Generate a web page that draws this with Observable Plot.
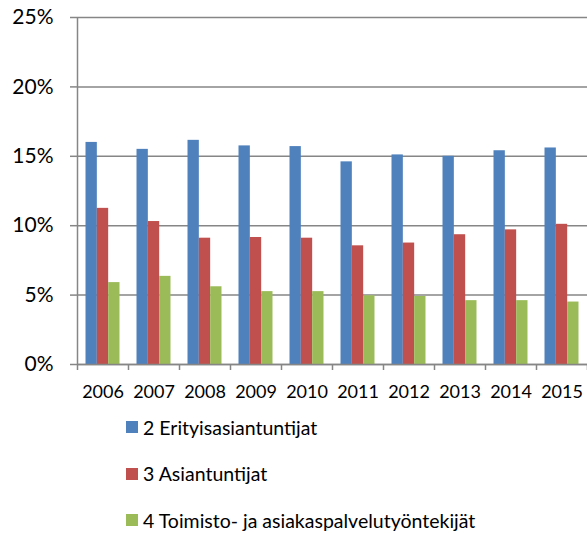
<!DOCTYPE html>
<html>
<head>
<meta charset="utf-8">
<script src="https://cdn.jsdelivr.net/npm/d3@7"></script>
<script src="https://cdn.jsdelivr.net/npm/@observablehq/plot@0.6"></script>
<style>
  html, body { margin: 0; padding: 0; background: #fff; }
  #wrap { position: relative; width: 587px; height: 533px; font-family: Lato, "Open Sans", sans-serif; color: #000; }
  #legend { position: absolute; left: 126px; top: 415px; }
  .item { display: flex; align-items: center; height: 24px; margin-bottom: 22.5px; font-size: 19.5px; white-space: nowrap; }
  .sw { width: 12px; height: 12px; margin-right: 5px; flex: none; }
</style>
</head>
<body>
<div id="wrap"></div>
<script>
const years = [2006, 2007, 2008, 2009, 2010, 2011, 2012, 2013, 2014, 2015];
const series = ["2 Erityisasiantuntijat", "3 Asiantuntijat", "4 Toimisto- ja asiakaspalvelutyöntekijät"];
const erityisasiantuntijat = [16.0, 15.5, 16.15, 15.75, 15.7, 14.6, 15.1, 15.0, 15.4, 15.6];
const asiantuntijat = [11.25, 10.3, 9.1, 9.15, 9.1, 8.55, 8.75, 9.35, 9.7, 10.1];
const toimisto = [5.9, 6.35, 5.6, 5.25, 5.25, 4.95, 4.9, 4.6, 4.6, 4.5];
const yTicks = [0, 5, 10, 15, 20, 25];
const colors = ["#4f81bd", "#c0504d", "#9bbb59"];

const valuesBySeries = [erityisasiantuntijat, asiantuntijat, toimisto];
const data = [];
years.forEach((yr, i) => {
  series.forEach((s, k) => data.push({i, year: yr, series: s, value: valuesBySeries[k][i]}));
});

// group layout inside each year slot
const inner = d3.scaleBand().domain(series).range([0, 1]).paddingInner(0).paddingOuter(0.75);

const chart = Plot.plot({
  width: 587,
  height: 405,
  marginLeft: 77,
  marginRight: 0,
  marginTop: 17,
  marginBottom: 41,
  style: {fontFamily: "Lato, 'Open Sans', sans-serif", color: "#000", background: "#fff"},
  x: {type: "linear", domain: [0, years.length], axis: null},
  y: {domain: [0, 25], axis: null},
  color: {domain: series, range: colors},
  marks: [
    Plot.gridY(yTicks, {stroke: "#868686", strokeWidth: 1.5, strokeOpacity: 1}),
    Plot.rectY(data, {
      x1: d => d.i + inner(d.series),
      x2: d => d.i + inner(d.series) + inner.bandwidth(),
      y: "value",
      fill: "series"
    }),
    Plot.axisY(yTicks, {
      label: null,
      tickSize: 7, tickPadding: 17, fontSize: 21,
      stroke: "#868686", strokeWidth: 1.5,
      tickFormat: d => d + "%"
    }),
    Plot.ruleX([0], {y1: 0, y2: 25, stroke: "#868686", strokeWidth: 1.5}),
    Plot.ruleY([0], {stroke: "#868686", strokeWidth: 1.5}),
    Plot.axisX(d3.range(years.length + 1), {
      label: null,
      tickSize: 6, tickFormat: () => "", stroke: "#868686", strokeWidth: 1.5
    }),
    Plot.axisX(years.map((y, i) => i + 0.5), {
      label: null,
      tickSize: 0, tickPadding: 21, fontSize: 18,
      tickFormat: v => String(years[Math.floor(v)])
    })
  ]
});

const wrap = document.getElementById("wrap");
wrap.appendChild(chart);

const legend = document.createElement("div");
legend.id = "legend";
series.forEach((s, k) => {
  const item = document.createElement("div");
  item.className = "item";
  const sw = document.createElement("span");
  sw.className = "sw";
  sw.style.background = colors[k];
  const label = document.createElement("span");
  label.textContent = s;
  item.appendChild(sw);
  item.appendChild(label);
  legend.appendChild(item);
});
wrap.appendChild(legend);
</script>
</body>
</html>
